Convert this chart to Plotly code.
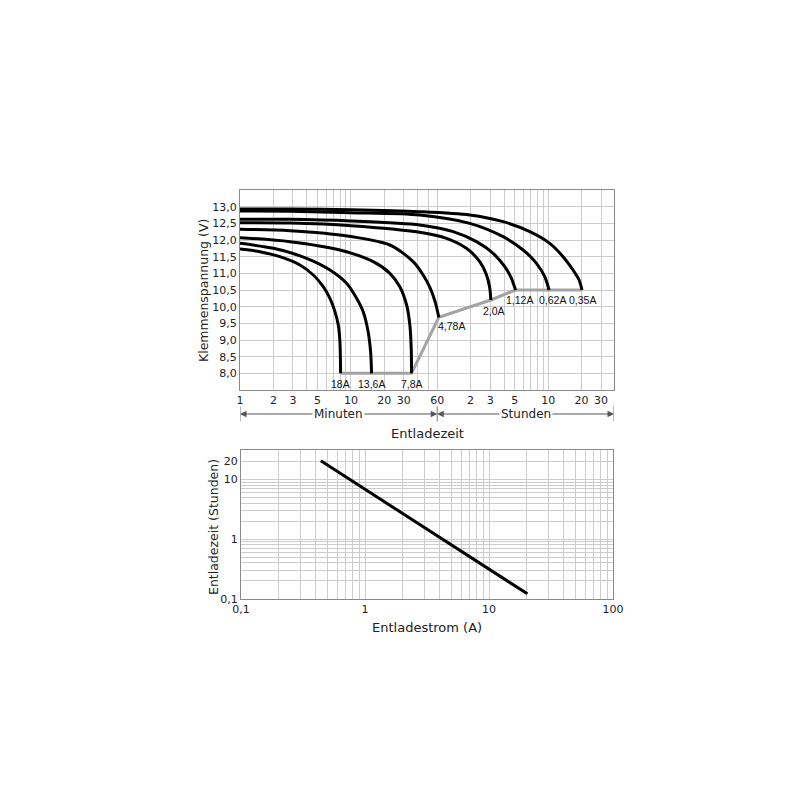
import math
import plotly.graph_objects as go

# ---------------- data: discharge curves (time in minutes, voltage in V) ----------------
labels = ["18A", "13,6A", "7,8A", "4,78A", "2,0A", "1,12A", "0,62A", "0,35A"]

t_18 = [1, 1.51, 2.29, 3.47, 4.58, 5.63, 6.47, 7.18, 7.69, 7.96, 8.07]
v_18 = [11.73, 11.65, 11.50, 11.25, 10.95, 10.60, 10.25, 9.85, 9.45, 8.95, 8.0]

t_13_6 = [1, 2.0, 3.99, 6.47, 9.14, 11.25, 12.9, 14.3, 15.05, 15.35]
v_13_6 = [11.90, 11.75, 11.45, 11.10, 10.70, 10.25, 9.85, 9.25, 8.65, 8.0]

t_7_8 = [1, 2.82, 7.96, 15.9, 22.45, 27.6, 31.8, 34.0, 35.0, 35.2]
v_7_8 = [12.07, 11.95, 11.70, 11.35, 11.0, 10.60, 10.05, 9.45, 8.7, 8.0]

t_4_78 = [1, 2.82, 7.96, 22.45, 36.4, 44.8, 52, 58, 62.0]
v_4_78 = [12.32, 12.28, 12.15, 11.85, 11.35, 10.95, 10.55, 10.1, 9.68]

t_2_0 = [1, 2.82, 10, 41.8, 72.8, 110, 145, 167, 178.7, 182.5]
v_2_0 = [12.52, 12.51, 12.43, 12.23, 12.05, 11.75, 11.35, 10.95, 10.55, 10.20]

t_1_12 = [1, 2.82, 10, 41.8, 83.5, 135.6, 191.4, 244, 280, 305]
v_1_12 = [12.62, 12.62, 12.57, 12.45, 12.25, 11.95, 11.60, 11.20, 10.85, 10.5]

t_0_62 = [1, 2.82, 10, 41.8, 118, 235.6, 357, 471, 559, 612]
v_0_62 = [12.87, 12.86, 12.82, 12.75, 12.50, 12.10, 11.70, 11.30, 10.90, 10.5]

t_0_35 = [1, 2.82, 10, 41.8, 118, 235.6, 410, 620, 818, 1006, 1141, 1212]
v_0_35 = [12.93, 12.93, 12.91, 12.85, 12.75, 12.55, 12.25, 11.90, 11.50, 11.10, 10.80, 10.5]

# end-of-discharge (cut-off) line
t_cut = [8.07, 35.2, 62.0, 182.5, 305, 1212]
v_cut = [8.0, 8.0, 9.68, 10.20, 10.5, 10.5]

# ---------------- data: discharge time vs current ----------------
current_A = [0.44, 20.4]
time_h = [20.4, 0.122]

# ---------------- tick labels ----------------
top_x_tickvals = [1, 2, 3, 4, 5, 6, 7, 8, 9, 10, 20, 30, 40, 50, 60,
                  120, 180, 240, 300, 360, 420, 480, 540, 600, 1200, 1800]
top_x_ticktext = ["1", "2", "3", "", "5", "", "", "", "", "10", "20", "30", "", "", "60",
                  "2", "3", "", "5", "", "", "", "", "10", "20", "30"]
top_y_tickvals = [8.0, 8.5, 9.0, 9.5, 10.0, 10.5, 11.0, 11.5, 12.0, 12.5, 13.0]
top_y_ticktext = ["8,0", "8,5", "9,0", "9,5", "10,0", "10,5", "11,0", "11,5", "12,0", "12,5", "13,0"]

bot_x_tickvals = [0.1, 0.2, 0.3, 0.4, 0.5, 0.6, 0.7, 0.8, 0.9,
                  1, 2, 3, 4, 5, 6, 7, 8, 9,
                  10, 20, 30, 40, 50, 60, 70, 80, 90, 100]
bot_x_ticktext = ["0,1"] + [""] * 8 + ["1"] + [""] * 8 + ["10"] + [""] * 8 + ["100"]
bot_y_tickvals = [0.1, 0.2, 0.3, 0.4, 0.5, 0.6, 0.7, 0.8, 0.9,
                  1, 2, 3, 4, 5, 6, 7, 8, 9, 10, 20, 30]
bot_y_ticktext = ["0,1"] + [""] * 8 + ["1"] + [""] * 8 + ["10", "20", ""]

curves = [(t_18, v_18), (t_13_6, v_13_6), (t_7_8, v_7_8), (t_4_78, v_4_78),
          (t_2_0, v_2_0), (t_1_12, v_1_12), (t_0_62, v_0_62), (t_0_35, v_0_35)]
label_shift = [(0, -11), (0, -11), (0, -11), (13, -9), (3, -11), (4, -10), (3, -10), (0, -10)]

FONT = "DejaVu Sans"
SMALL_FONT = "Liberation Sans Narrow, Liberation Sans, Arial, sans-serif"
GRID = "#cccccc"
FRAME = "#8a8a8a"

X_MAX_MIN = 2355  # right edge of the top chart, in minutes
PX_PER_DEC = 374 / math.log10(X_MAX_MIN)

fig = go.Figure()

fig.add_trace(go.Scatter(x=t_cut, y=v_cut, mode="lines",
                         line=dict(color="#a3a3a3", width=3),
                         xaxis="x", yaxis="y", hoverinfo="skip"))
for (t, v) in curves:
    fig.add_trace(go.Scatter(x=t, y=v, mode="lines",
                             line=dict(color="black", width=3, shape="spline", smoothing=0.8),
                             xaxis="x", yaxis="y", hoverinfo="skip"))

fig.add_trace(go.Scatter(x=current_A, y=time_h, mode="lines",
                         line=dict(color="black", width=3),
                         xaxis="x2", yaxis="y2", hoverinfo="skip"))

annotations = []
for lab, (t, v), (dx, dy) in zip(labels, curves, label_shift):
    annotations.append(dict(x=math.log10(t[-1]), y=v[-1], xref="x", yref="y",
                            text=lab, showarrow=False, xshift=dx, yshift=dy,
                            font=dict(family=SMALL_FONT, size=10.5, color="#111")))

# Minuten / Stunden arrows
y_arrow = (599 - 414) / 409
lx0 = 0.0
lx60 = math.log10(60)
lxr = math.log10(X_MAX_MIN)
for head, tail in [(lx0, (lx0 + lx60) / 2), (lx60, (lx0 + lx60) / 2),
                   (lx60, (lx60 + lxr) / 2), (lxr, (lx60 + lxr) / 2)]:
    annotations.append(dict(x=head, y=y_arrow, xref="x", yref="paper",
                            ax=(tail - head) * PX_PER_DEC, ay=0,
                            text="", showarrow=True, arrowhead=2, arrowsize=1.3,
                            arrowwidth=1, arrowcolor="#555555", standoff=0))
annotations.append(dict(x=(lx0 + lx60) / 2, y=y_arrow, xref="x", yref="paper",
                        text="Minuten", showarrow=False, bgcolor="white",
                        xanchor="center", yanchor="middle",
                        font=dict(family=FONT, size=12, color="#222")))
annotations.append(dict(x=(lx60 + lxr) / 2, y=y_arrow, xref="x", yref="paper",
                        text="Stunden", showarrow=False, bgcolor="white",
                        xanchor="center", yanchor="middle",
                        font=dict(family=FONT, size=12, color="#222")))

# axis titles
annotations += [
    dict(x=0.5, y=(599 - 433) / 409, xref="paper", yref="paper", text="Entladezeit",
         xanchor="center", yanchor="middle", showarrow=False,
         font=dict(family=FONT, size=13, color="#222")),
    dict(x=(427 - 240) / 374, y=(599 - 627) / 409, xref="paper", yref="paper",
         text="Entladestrom (A)", xanchor="center", yanchor="middle", showarrow=False,
         font=dict(family=FONT, size=13, color="#222")),
    dict(x=(203 - 240) / 374, y=(599 - 291) / 409, xref="paper", yref="paper",
         text="Klemmenspannung (V)", textangle=-90, xanchor="center", yanchor="middle",
         showarrow=False, font=dict(family=FONT, size=12.5, color="#222")),
    dict(x=(213 - 240) / 374, y=(599 - 527) / 409, xref="paper", yref="paper",
         text="Entladezeit (Stunden)", textangle=-90, xanchor="center", yanchor="middle",
         showarrow=False, font=dict(family=FONT, size=12.5, color="#222")),
]

shapes = []
for xv in [1, 60, X_MAX_MIN]:
    shapes.append(dict(type="line", xref="x", yref="paper", x0=xv, x1=xv,
                       y0=(599 - 406.5) / 409, y1=(599 - 421.5) / 409,
                       line=dict(color="#777777", width=1)))

axis_common = dict(showgrid=True, gridcolor=GRID, gridwidth=1, zeroline=False,
                   showline=True, mirror=True, linecolor=FRAME, linewidth=1,
                   ticks="", tickfont=dict(family=FONT, size=11, color="#222"))

fig.update_layout(
    width=784, height=784,
    margin=dict(l=232, r=178, t=182, b=193),
    paper_bgcolor="white", plot_bgcolor="white",
    showlegend=False,
    font=dict(family=FONT, color="#222"),
    xaxis=dict(domain=[0, 1], anchor="y", type="log", range=[0, lxr],
               tickmode="array", tickvals=top_x_tickvals, ticktext=top_x_ticktext,
               **axis_common),
    yaxis=dict(domain=[(599 - 390) / 409, 1], anchor="x", range=[7.5, 13.5],
               tickmode="array", tickvals=top_y_tickvals, ticktext=top_y_ticktext,
               **axis_common),
    xaxis2=dict(domain=[1 / 374, 373 / 374], anchor="y2", type="log", range=[-1, 2],
                tickmode="array", tickvals=bot_x_tickvals, ticktext=bot_x_ticktext,
                **axis_common),
    yaxis2=dict(domain=[0, (599 - 450) / 409], anchor="x2", type="log", range=[-1, 1.49],
                tickmode="array", tickvals=bot_y_tickvals, ticktext=bot_y_ticktext,
                **axis_common),
    annotations=annotations,
    shapes=shapes,
)

fig.write_html("out.html")
